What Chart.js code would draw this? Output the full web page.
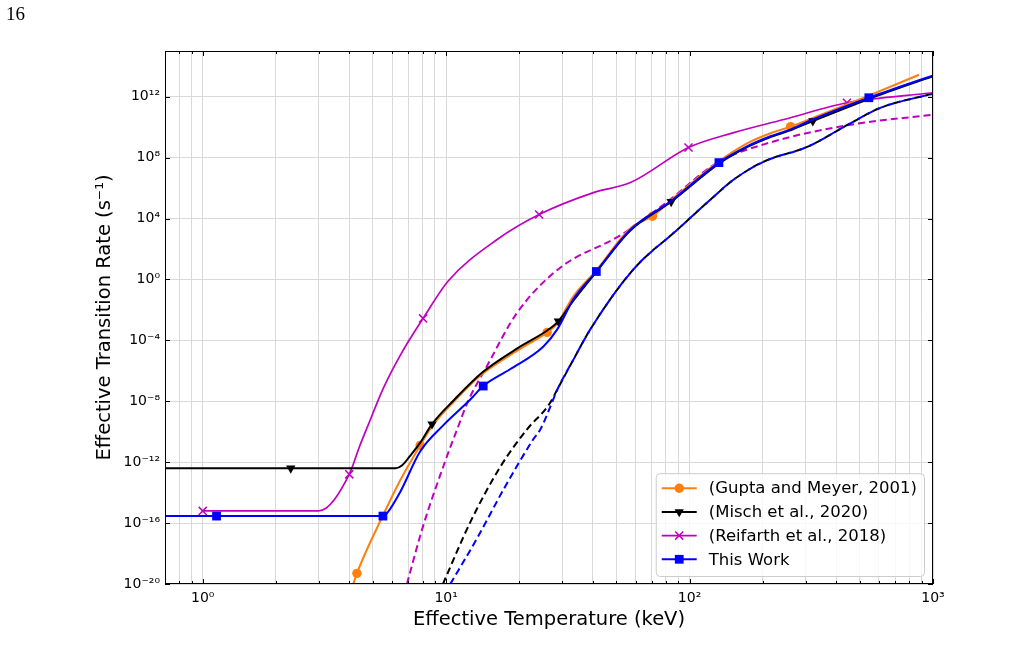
<!DOCTYPE html>
<html>
<head>
<meta charset="utf-8">
<script src="https://cdn.jsdelivr.net/npm/chart.js@4.4.1/dist/chart.umd.min.js"></script>
<style>
  html, body { margin: 0; padding: 0; background: #fff; }
  #wrap { position: relative; width: 1028px; height: 658px; }
  #chart { position: absolute; left: 0; top: 0; }
  #pageNum { position: absolute; left: 6px; top: 3px; font-family: 'Liberation Serif', 'DejaVu Serif', serif; font-size: 19px; color: #000; }
</style>
</head>
<body>
<div id="wrap">
  <canvas id="chart" width="1028" height="658"></canvas>
  <div id="pageNum">16</div>
</div>
<script>
// Datos: temperatura (keV) y log10 de la tasa (s^-1)
const guptaT     = [4.1, 4.3, 5.5, 6.47, 7.82, 8.75, 10.8, 14.1, 20.2, 26.0, 28.6, 33.0, 41.4, 57, 70.4, 84, 132, 173, 215, 260, 321, 545, 876];
const guptaLogR  = [-20.3, -19.3, -15.5, -13.2, -10.9, -9.65, -8.0, -6.2, -4.55, -3.48, -2.9, -1.2, 0.6, 3.35, 4.15, 5.2, 7.75, 8.95, 9.6, 10.03, 10.6, 12.07, 13.44];
const guptaMarks = [1, 4, 9, 14, 19];

const mischT     = [0.7, 2.3, 6.2, 6.6, 7.1, 7.8, 8.75, 10.8, 14.1, 20.2, 26.0, 28.9, 33.3, 41.4, 57, 84, 132, 173, 215, 260, 321, 545, 1000];
const mischLogR  = [-12.4, -12.4, -12.4, -12.2, -11.6, -10.75, -9.5, -7.9, -6.1, -4.4, -3.35, -2.75, -1.4, 0.5, 3.2, 5.1, 7.6, 8.7, 9.35, 9.8, 10.4, 11.85, 13.35];
const mischMarks = [1, 6, 11, 15, 20];

const reifT      = [1.0, 3.0, 4.0, 4.4, 4.8, 5.5, 6.47, 8.04, 10.2, 16.2, 24.1, 40.3, 57.2, 99, 152, 244, 443, 1000];
const reifLogR   = [-15.2, -15.2, -12.8, -11.0, -9.5, -7.2, -5.0, -2.56, -0.1, 2.62, 4.26, 5.7, 6.36, 8.66, 9.64, 10.5, 11.6, 12.26];
const reifMarks  = [0, 2, 7, 10, 13, 16];

const workT      = [0.7, 1.14, 5.5, 5.75, 6.47, 7.82, 9.7, 12.6, 14.2, 18.3, 25.1, 28.6, 33.3, 41.4, 57, 84, 132, 173, 215, 260, 321, 545, 1000];
const workLogR   = [-15.54, -15.54, -15.54, -15.3, -13.97, -11.3, -9.6, -7.87, -7.0, -5.9, -4.4, -3.28, -1.31, 0.52, 3.25, 5.15, 7.67, 8.75, 9.4, 9.85, 10.5, 11.93, 13.4];
const workMarks  = [1, 2, 8, 13, 16, 21];

// curvas discontinuas (sin leyenda)
const reifDashT     = [6.9, 8.04, 9.93, 11.1, 12.3, 14.7, 19.6, 29.4, 52, 81, 130, 215, 460, 1000];
const reifDashLogR  = [-20, -16.2, -11.9, -9.84, -8.0, -5.7, -2.17, 0.77, 2.9, 5.1, 7.67, 9.0, 10.16, 10.82];
const mischDashT    = [9.7, 12.6, 16.7, 21.5, 26.5, 28.9, 33.5, 39.1, 58.8, 89.3, 122, 152, 202, 306, 447, 611, 1000];
const mischDashLogR = [-20, -15.9, -12.3, -9.84, -8.2, -7.1, -5.2, -3.28, 0.66, 3.28, 5.25, 6.56, 7.74, 8.72, 10.16, 11.28, 12.2];
const workDashT     = [10.4, 13.4, 17.2, 22.8, 24.4, 28.9, 33.5, 39.1, 58.8, 89.3, 122, 152, 202, 306, 447, 611, 1000];
const workDashLogR  = [-20, -17.0, -13.8, -10.5, -9.84, -7.1, -5.2, -3.28, 0.66, 3.28, 5.25, 6.56, 7.74, 8.72, 10.16, 11.28, 12.2];

// ejes
const xTickValues = [0.7, 0.8, 0.9, 1, 2, 3, 4, 5, 6, 7, 8, 9, 10, 20, 30, 40, 50, 60, 70, 80, 90, 100, 200, 300, 400, 500, 600, 700, 800, 900, 1000];
const xMajorLabels = { '0': '10⁰', '1': '10¹', '2': '10²', '3': '10³' };
const yTickValues = [1e-20, 1e-16, 1e-12, 1e-8, 1e-4, 1, 1e4, 1e8, 1e12];
const yTickLabels = ['10⁻²⁰', '10⁻¹⁶', '10⁻¹²', '10⁻⁸', '10⁻⁴', '10⁰', '10⁴', '10⁸', '10¹²'];
const legendOrder = ['(Gupta and Meyer, 2001)', '(Misch et al., 2020)', '(Reifarth et al., 2018)', 'This Work'];

const FONT = "'DejaVu Sans', sans-serif";
const MAGENTA = '#bf00bf';

function pts(T, logR) {
    return T.map((t, i) => ({ x: t, y: Math.pow(10, logR[i]) }));
}

function marks(n, idx, r) {
    const a = new Array(n).fill(0);
    idx.forEach(i => a[i] = r);
    return a;
}

function isMajor(v) {
    const l = Math.log10(v);
    return Math.abs(l - Math.round(l)) < 1e-6;
}

// dibuja un marcador igual en la leyenda
function drawMarker(ctx, style, x, y, r, color) {
    ctx.save();
    ctx.fillStyle = color;
    ctx.strokeStyle = color;
    ctx.beginPath();
    if (style === 'circle') {
        ctx.arc(x, y, r, 0, Math.PI * 2);
        ctx.fill();
    } else if (style === 'triangle') {
        ctx.moveTo(x, y + r);
        ctx.lineTo(x - r * 0.866, y - r / 2);
        ctx.lineTo(x + r * 0.866, y - r / 2);
        ctx.closePath();
        ctx.fill();
    } else if (style === 'rect') {
        const s = r * Math.SQRT1_2;
        ctx.rect(x - s, y - s, 2 * s, 2 * s);
        ctx.fill();
    } else if (style === 'crossRot') {
        const s = r * Math.SQRT1_2;
        ctx.lineWidth = 1.5;
        ctx.moveTo(x - s, y - s); ctx.lineTo(x + s, y + s);
        ctx.moveTo(x - s, y + s); ctx.lineTo(x + s, y - s);
        ctx.stroke();
    }
    ctx.restore();
}

const frameTicks = {
    id: 'frameTicks',
    afterDatasetsDraw(chart) {
        const { ctx, chartArea: a, scales } = chart;
        ctx.save();
        ctx.strokeStyle = '#000';
        ctx.lineWidth = 1;
        ctx.beginPath();
        xTickValues.forEach(v => {
            const px = Math.round(scales.x.getPixelForValue(v)) + 0.5;
            const len = isMajor(v) ? 5 : 3;
            ctx.moveTo(px, a.bottom); ctx.lineTo(px, a.bottom - len);
            ctx.moveTo(px, a.top); ctx.lineTo(px, a.top + len);
        });
        yTickValues.forEach(v => {
            const py = Math.round(scales.y.getPixelForValue(v)) + 0.5;
            ctx.moveTo(a.left, py); ctx.lineTo(a.left + 5, py);
            ctx.moveTo(a.right, py); ctx.lineTo(a.right - 5, py);
        });
        ctx.stroke();
        ctx.strokeRect(Math.round(a.left) + 0.5, Math.round(a.top) + 0.5, Math.round(a.width) - 1, Math.round(a.height) - 1);
        ctx.restore();
    }
};

const insideLegend = {
    id: 'insideLegend',
    afterDraw(chart) {
        const { ctx, chartArea: a } = chart;
        const items = legendOrder.map(t => chart.data.datasets.find(d => d.label === t));
        ctx.save();
        ctx.font = '16.5px ' + FONT;
        const textW = Math.max(...items.map(d => ctx.measureText(d.label).width));
        const rowH = 23.7;
        const w = 53 + textW + 7;
        const h = items.length * rowH + 8;
        const x0 = a.right - 9 - w;
        const y0 = a.bottom - 8 - h;
        ctx.beginPath();
        ctx.roundRect(x0 + 0.5, y0 + 0.5, w, h, 4);
        ctx.fillStyle = 'rgba(255,255,255,0.8)';
        ctx.fill();
        ctx.strokeStyle = '#cccccc';
        ctx.lineWidth = 1;
        ctx.stroke();
        items.forEach((d, i) => {
            const cy = y0 + 15 + i * rowH;
            ctx.beginPath();
            ctx.strokeStyle = d.borderColor;
            ctx.lineWidth = d.borderWidth;
            ctx.moveTo(x0 + 6, cy);
            ctx.lineTo(x0 + 41, cy);
            ctx.stroke();
            drawMarker(ctx, d.pointStyle, x0 + 23.5, cy, d.legendRadius, d.borderColor);
            ctx.fillStyle = '#000';
            ctx.textBaseline = 'middle';
            ctx.textAlign = 'left';
            ctx.fillText(d.label, x0 + 53, cy + 1);
        });
        ctx.restore();
    }
};

function solid(label, T, logR, idx, color, style, r, order, extra) {
    return Object.assign({
        label: label,
        data: pts(T, logR),
        borderColor: color,
        backgroundColor: color,
        borderWidth: 2,
        pointStyle: style,
        pointRadius: marks(T.length, idx, r),
        pointBorderWidth: style === 'crossRot' ? 1.5 : 0,
        pointBorderColor: color,
        pointBackgroundColor: color,
        legendRadius: r,
        cubicInterpolationMode: 'monotone',
        order: order
    }, extra || {});
}

function dashed(label, T, logR, color, order) {
    return {
        label: label,
        data: pts(T, logR),
        borderColor: color,
        borderWidth: 2,
        borderDash: [7, 4],
        pointRadius: 0,
        cubicInterpolationMode: 'monotone',
        order: order
    };
}

const datasets = [
    solid('This Work', workT, workLogR, workMarks, '#0000ff', 'rect', 6.2, 0),
    solid('(Misch et al., 2020)', mischT, mischLogR, mischMarks, '#000000', 'triangle', 5.4, 1, { pointRotation: 180 }),
    solid('(Gupta and Meyer, 2001)', guptaT, guptaLogR, guptaMarks, '#ff7f0e', 'circle', 4.7, 2),
    solid('(Reifarth et al., 2018)', reifT, reifLogR, reifMarks, MAGENTA, 'crossRot', 5.7, 3, { borderWidth: 1.7 }),
    dashed('work dashed', workDashT, workDashLogR, '#0000ff', 4),
    dashed('misch dashed', mischDashT, mischDashLogR, '#000000', 5),
    dashed('reif dashed', reifDashT, reifDashLogR, MAGENTA, 6)
];

new Chart(document.getElementById('chart'), {
    type: 'line',
    data: { datasets: datasets },
    options: {
        responsive: false,
        animation: false,
        events: [],
        layout: { padding: { left: 85, right: 95, top: 51, bottom: 0 } },
        plugins: {
            legend: { display: false },
            tooltip: { enabled: false }
        },
        scales: {
            x: {
                type: 'logarithmic',
                min: 0.7,
                max: 1000,
                afterBuildTicks: s => { s.ticks = xTickValues.map(v => ({ value: v, major: isMajor(v) })); },
                afterFit: s => { s.height = 74; },
                ticks: {
                    autoSkip: false,
                    maxRotation: 0,
                    padding: 6,
                    color: '#000',
                    font: { family: FONT, size: 14 },
                    callback: v => isMajor(v) ? xMajorLabels[String(Math.round(Math.log10(v)))] : ''
                },
                grid: { color: '#d9d9d9', lineWidth: 1, drawTicks: false },
                border: { display: false },
                title: {
                    display: true,
                    text: 'Effective Temperature (keV)',
                    color: '#000',
                    font: { family: FONT, size: 19.5 },
                    padding: { top: 0, bottom: 26 }
                }
            },
            y: {
                type: 'logarithmic',
                min: 1e-20,
                max: 1e15,
                afterBuildTicks: s => { s.ticks = yTickValues.map(v => ({ value: v, major: true })); },
                afterFit: s => { s.width = 80; },
                ticks: {
                    autoSkip: false,
                    padding: 5,
                    color: '#000',
                    font: { family: FONT, size: 14 },
                    callback: (v, i) => yTickLabels[i]
                },
                grid: { color: '#d9d9d9', lineWidth: 1, drawTicks: false },
                border: { display: false },
                title: {
                    display: true,
                    text: 'Effective Transition Rate (s⁻¹)',
                    color: '#000',
                    font: { family: FONT, size: 19.5 },
                    padding: { top: 8, bottom: 0 }
                }
            }
        }
    },
    plugins: [frameTicks, insideLegend]
});
</script>
</body>
</html>
